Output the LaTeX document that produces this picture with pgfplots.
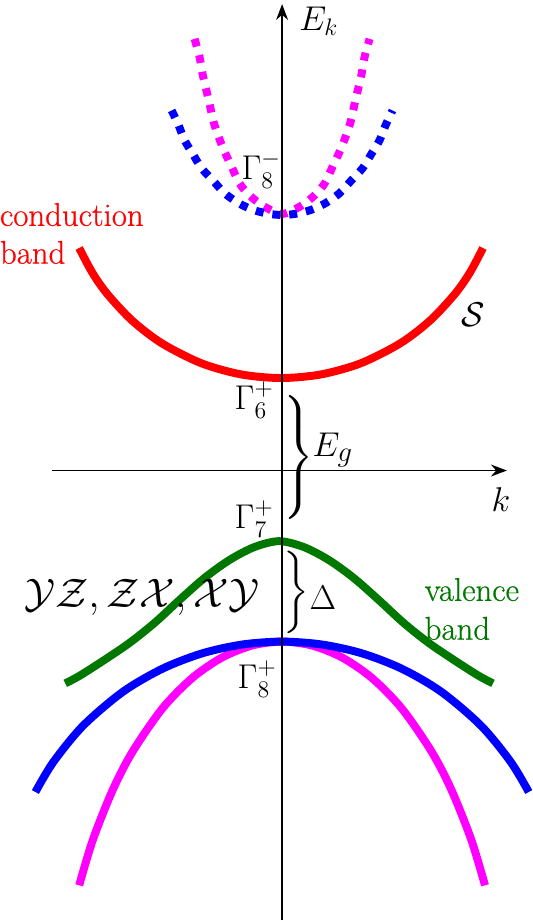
\documentclass[border=0pt]{standalone}
\usepackage{pgfplots}
\pgfplotsset{compat=1.18}
\usepackage{exscale}
\usepackage{fontspec}
\newfontfamily\lbl{Latin Modern Roman}[FakeBold=0.6]
\usetikzlibrary{arrows.meta}
\definecolor{dgreen}{RGB}{0,120,0}
\definecolor{mag}{RGB}{255,0,255}
\definecolor{blu}{RGB}{0,0,255}
\definecolor{rd}{RGB}{255,0,0}
\begin{document}
\begin{tikzpicture}
\begin{axis}[
  scale only axis, width=270pt, height=460.5pt,
  xmin=0, xmax=540, ymin=0, ymax=921, y dir=reverse,
  hide axis, clip=false]
% conduction band (red)
\addplot[rd, line width=4pt, smooth] coordinates {
 (82,245.3) (95,269.7) (110,291.2) (135,318) (165,341) (205,361.2) (245,372.4) (285,376)
 (325,372.4) (365,361.2) (405,341) (435,318) (460,291.2) (475,269.7) (488,245.3)};
% Gamma8- dotted bands
\addplot[mag, line width=4pt, smooth, dash pattern=on 4pt off 4.5pt] coordinates {
 (198,35) (203,53) (206,70) (209,83) (213,100) (217,118) (222,133) (228,148) (235,163) (243,180) (253,192) (267,203) (286,211)
 (305,203) (319,192) (329,180) (337,163) (344,148) (350,133) (355,118) (359,100) (363,83) (366,70) (369,53) (374,35)};
\addplot[blu, line width=4pt, smooth, dash pattern=on 4pt off 4.5pt] coordinates {
 (175,107) (182,122) (188,137) (197,152) (205,165) (217,178) (228,190) (242,200) (257,207) (273,211) (286,212)
 (299,211) (315,207) (330,200) (344,190) (355,178) (367,165) (375,152) (384,137) (390,122) (397,107)};
% valence bands
\addplot[dgreen, line width=4pt, smooth] coordinates {
 (68,683) (83,675) (108,659) (133,642) (158,622) (183,599) (208,577) (233,559) (258,546) (283,540)
 (308,546) (333,559) (358,577) (383,599) (408,622) (433,642) (458,659) (483,675) (498,683)};
\addplot[mag, line width=4pt, smooth] coordinates {
 (82,886) (96,839.6) (116,789.5) (136,751.1) (166,707.8) (196,677.3) (226,656.8) (256,644.9) (286,641)
 (316,644.9) (346,656.8) (376,677.3) (406,707.8) (436,751.1) (456,789.5) (476,839.6) (490,886)};
\addplot[blu, line width=4pt, smooth] coordinates {
 (38,792.2) (56,762.1) (86,725.5) (126,691.4) (166,668.1) (206,652.7) (246,643.9) (286,641)
 (326,643.9) (366,652.7) (406,668.1) (446,691.4) (486,725.5) (516,762.1) (534,792.2)};
% axes
\addplot[black, line width=0.9pt, -{Stealth[length=8pt,width=6pt]}] coordinates {(55,469) (512,469)};
\addplot[black, line width=0.9pt, -{Stealth[length=8pt,width=6pt]}] coordinates {(286,921) (286,0)};
% braces
\node[inner sep=0, font=\fontsize{16}{19}\selectfont] at (axis cs:302,458) {$\left.\vrule height 29pt depth 29pt width 0pt\right\}$};
\node[inner sep=0, font=\fontsize{16}{19}\selectfont] at (axis cs:299,592) {$\left.\vrule height 16.5pt depth 16.5pt width 0pt\right\}$};
% labels
\node[font=\fontsize{17.5}{20}\selectfont] at (axis cs:323,17) {$E_k$};
\node[font=\fontsize{18.5}{21}\selectfont] at (axis cs:265,167) {$\Gamma_8^-$};
\node[font=\fontsize{18.5}{21}\selectfont] at (axis cs:258,398) {$\Gamma_6^+$};
\node[font=\fontsize{18.5}{21}\selectfont] at (axis cs:258,518) {$\Gamma_7^+$};
\node[font=\fontsize{18.5}{21}\selectfont] at (axis cs:261,679) {$\Gamma_8^+$};
\node[font=\fontsize{19}{22}\selectfont] at (axis cs:337,448) {$E_g$};
\node[font=\fontsize{17}{20}\selectfont] at (axis cs:506,498) {$k$};
\node[font=\fontsize{18}{21}\selectfont] at (axis cs:327,597) {$\Delta$};
\node[font=\fontsize{16}{19}\selectfont] at (axis cs:478,312) {$\mathcal{S}$};
\node[font=\fontsize{19.5}{24}\selectfont] at (axis cs:145,597) {$\mathcal{YZ},\mathcal{ZX},\mathcal{XY}$};
\node[rd, anchor=base west, inner sep=0, font=\lbl\fontsize{16.5}{19}\selectfont] at (axis cs:2,223) {conduction};
\node[rd, anchor=base west, inner sep=0, font=\lbl\fontsize{16.5}{19}\selectfont] at (axis cs:2,261) {band};
\node[dgreen, anchor=base west, inner sep=0, font=\lbl\fontsize{16.5}{19}\selectfont] at (axis cs:429,600) {valence};
\node[dgreen, anchor=base west, inner sep=0, font=\lbl\fontsize{16.5}{19}\selectfont] at (axis cs:429,639) {band};
\end{axis}
\end{tikzpicture}
\end{document}
